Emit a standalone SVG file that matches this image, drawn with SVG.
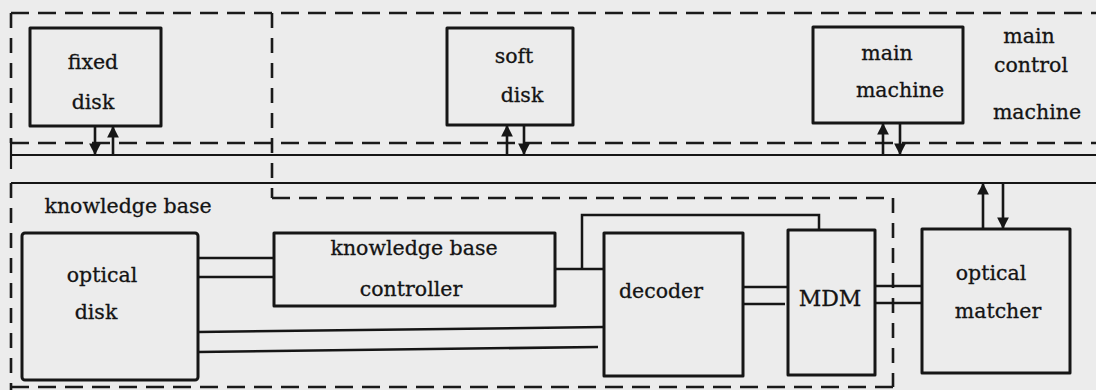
<svg xmlns="http://www.w3.org/2000/svg" width="1096" height="390" viewBox="0 0 1096 390">
<defs>
<style>
.box{fill:none;stroke:#161616;stroke-width:3;stroke-linejoin:round}
.ln{fill:none;stroke:#161616;stroke-width:2.5}
.dh{fill:none;stroke:#1a1a1a;stroke-width:2.6;stroke-dasharray:18 9}
.dv{fill:none;stroke:#1a1a1a;stroke-width:2.6;stroke-dasharray:15 10}
.bus{fill:none;stroke:#161616;stroke-width:2.2}
.ar{fill:none;stroke:#161616;stroke-width:2.6}
text{font-family:"DejaVu Serif","Liberation Serif",serif;font-size:20.5px;fill:#141414;text-anchor:middle;stroke:#141414;stroke-width:0.3}
</style>
<marker id="ah" viewBox="0 0 10 10" refX="9" refY="5" markerWidth="4.5" markerHeight="4.5" orient="auto-start-reverse" markerUnits="strokeWidth">
<path d="M0,0 L10,5 L0,10 z" fill="#161616"/>
</marker>
</defs>
<rect width="1096" height="390" fill="#ececec"/>

<g id="frames">
<path class="dh" d="M11,13 H1096"/>
<path class="dv" d="M11,13 V143"/>
<path class="dv" d="M272,13 V198"/>
<path class="dh" d="M11,143 H1096"/>
<path class="dh" d="M272,198 H893"/>
<path class="dv" d="M893,198 V387"/>
<path class="dh" d="M11,387 H893"/>
<path class="dv" d="M11,183 V390"/>
</g>

<g id="bus">
<path class="bus" d="M11,155 H1096"/>
<path class="bus" d="M11,183 H1096"/>
<path class="bus" d="M11,139 V169"/>
</g>

<g id="fixed-disk">
<rect class="box" x="30" y="28" width="131" height="98"/>
<text x="93" y="69">fixed</text>
<text x="93" y="109">disk</text>
</g>

<g id="soft-disk">
<rect class="box" x="447" y="28" width="126" height="97"/>
<text x="514" y="63">soft</text>
<text x="522" y="102">disk</text>
</g>

<g id="main-machine">
<rect class="box" x="813" y="27" width="150" height="96"/>
<text x="887" y="60">main</text>
<text x="900" y="97">machine</text>
</g>

<g id="main-control-machine">
<text x="1029" y="43">main</text>
<text x="1031" y="72">control</text>
<text x="1037" y="119">machine</text>
</g>

<g id="knowledge-base">
<text x="128" y="213">knowledge base</text>
</g>

<g id="optical-disk">
<rect class="box" x="22" y="233" width="176" height="147" rx="3"/>
<text x="102" y="282">optical</text>
<text x="96" y="319">disk</text>
</g>

<g id="kb-controller">
<rect class="box" x="274" y="233" width="281" height="73"/>
<text x="414" y="255">knowledge base</text>
<text x="411" y="296">controller</text>
</g>

<g id="decoder">
<rect class="box" x="604" y="233" width="139" height="143"/>
<text x="661" y="298">decoder</text>
</g>

<g id="mdm">
<rect class="box" x="788" y="230" width="87" height="145"/>
<text x="830" y="306" style="font-size:22px">MDM</text>
</g>

<g id="optical-matcher">
<rect class="box" x="922" y="229" width="148" height="144"/>
<text x="991" y="280">optical</text>
<text x="998" y="318">matcher</text>
</g>

<g id="connectors">
<path class="ln" d="M198,258 H274"/>
<path class="ln" d="M198,277 H274"/>
<path class="ln" d="M198,332 L604,327"/>
<path class="ln" d="M198,352 L598,347"/>
<path class="ln" d="M555,269 H604"/>
<path class="ln" d="M582,269 V215 H819 V230"/>
<path class="ln" d="M743,287 H787"/>
<path class="ln" d="M743,304 H785"/>
<path class="ln" d="M876,286 H922"/>
<path class="ln" d="M876,303 H922"/>
<path class="ar" d="M95,127 V154" marker-end="url(#ah)"/>
<path class="ar" d="M113,154 V127" marker-end="url(#ah)"/>
<path class="ar" d="M507,154 V126" marker-end="url(#ah)"/>
<path class="ar" d="M524,126 V154" marker-end="url(#ah)"/>
<path class="ar" d="M883,154 V124" marker-end="url(#ah)"/>
<path class="ar" d="M900,124 V154" marker-end="url(#ah)"/>
<path class="ar" d="M983,228 V184" marker-end="url(#ah)"/>
<path class="ar" d="M1003,184 V228" marker-end="url(#ah)"/>
</g>
</svg>
